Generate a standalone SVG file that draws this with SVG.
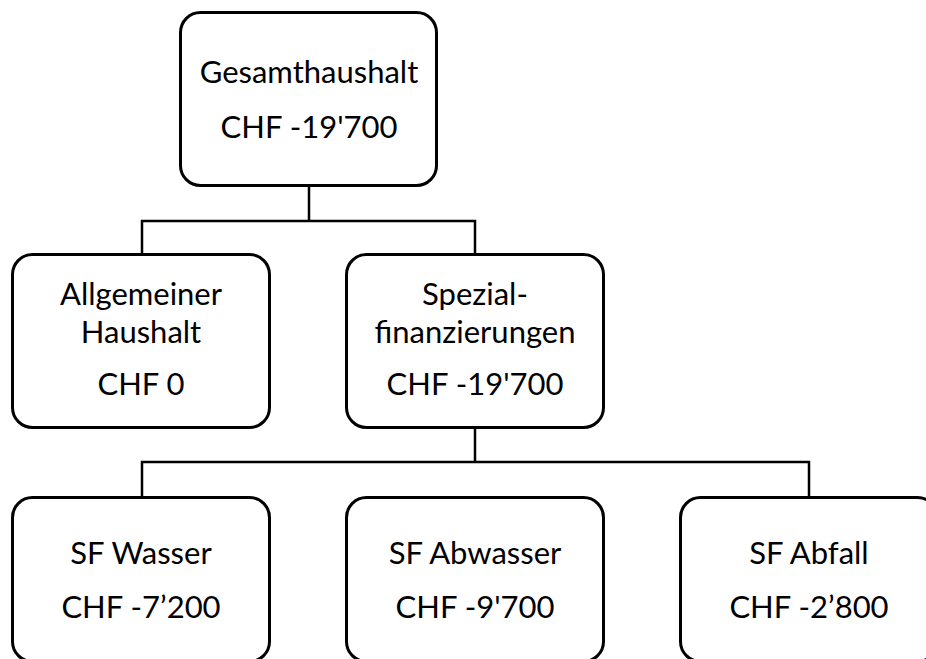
<svg xmlns="http://www.w3.org/2000/svg" width="926" height="659" viewBox="0 0 926 659">
<style>
.box{fill:#fff;stroke:#000;stroke-width:3}
.ln{fill:none;stroke:#000;stroke-width:2.5}
text{font-family:Lato,"Liberation Sans",sans-serif;font-size:31px;fill:#000;text-anchor:middle}
</style>
<rect width="926" height="659" fill="#fff"/>
<g id="connectors">
<path class="ln" d="M309 186V221M142 254V221H475V254"/>
<path class="ln" d="M475 428V462M142 497V462H809V497"/>
</g>
<g id="gesamt">
<rect class="box" x="180.5" y="12.5" width="256" height="173" rx="20"/>
<text x="309" y="83">Gesamthaushalt</text>
<text x="309" y="138">CHF -19'700</text>
</g>
<g id="allgemein">
<rect class="box" x="12.5" y="254.5" width="257" height="173" rx="20"/>
<text x="141" y="305">Allgemeiner</text>
<text x="141" y="343">Haushalt</text>
<text x="141" y="395">CHF 0</text>
</g>
<g id="spezial">
<rect class="box" x="346.5" y="254.5" width="257" height="173" rx="20"/>
<text x="475" y="305">Spezial-</text>
<text x="475" y="343">finanzierungen</text>
<text x="475" y="395">CHF -19'700</text>
</g>
<g id="wasser">
<rect class="box" x="12.5" y="497.5" width="257" height="164" rx="20"/>
<text x="141" y="564">SF Wasser</text>
<text x="141" y="618">CHF -7’200</text>
</g>
<g id="abwasser">
<rect class="box" x="346.5" y="497.5" width="257" height="164" rx="20"/>
<text x="475" y="564">SF Abwasser</text>
<text x="475" y="618">CHF -9'700</text>
</g>
<g id="abfall">
<rect class="box" x="680.5" y="497.5" width="257" height="164" rx="20"/>
<text x="809" y="564">SF Abfall</text>
<text x="809" y="618">CHF -2’800</text>
</g>
</svg>
